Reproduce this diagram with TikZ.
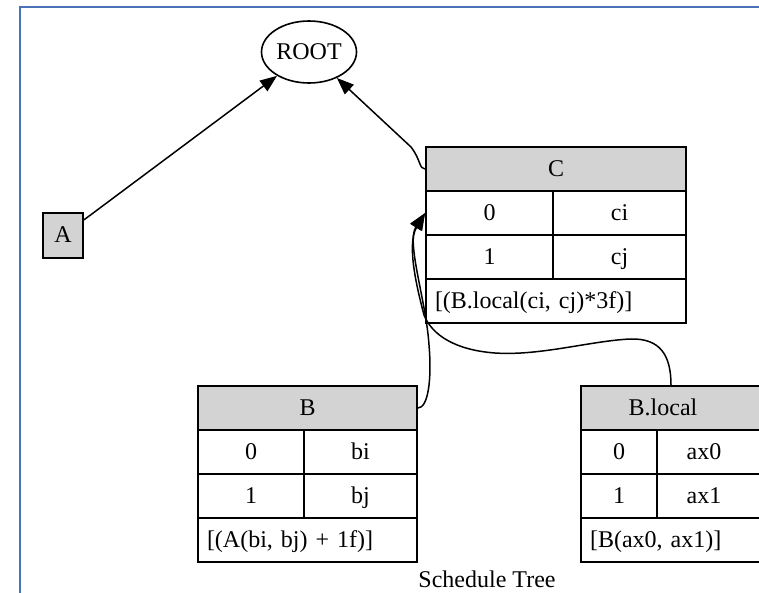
\documentclass[tikz,border=0pt]{standalone}
\usepackage{fontspec}
\setmainfont{Liberation Serif}
\usetikzlibrary{shapes.geometric,arrows.meta}
\definecolor{hdrgray}{HTML}{D3D3D3}
\definecolor{framebl}{HTML}{4A72B8}
\tikzset{
  txt/.style={font=\fontsize{24}{28}\selectfont},
  celltxt/.style={txt, text height=19pt, text depth=5pt},
  cell/.style={celltxt, draw, line width=1.8pt, rectangle, inner sep=0pt, minimum height=44pt},
  hdr/.style={cell, fill=hdrgray},
  foot/.style={cell, align=left, inner xsep=9pt},
  edge/.style={line width=1.5pt, -{Triangle[length=17pt,width=13pt]}},
}
\begin{document}
\begin{tikzpicture}[x=1pt,y=-1pt]
\useasboundingbox (0,0) rectangle (759,592);
\clip (0,0) rectangle (759,592);
\fill[white] (0,0) rectangle (759,592);
% window frame
\draw[framebl, line width=2pt] (20,593) -- (20,7) -- (760,7);

% tree nodes
\node[txt, ellipse, draw, line width=1.6pt, inner sep=0pt, minimum width=95pt, minimum height=62pt] (ROOT) at (309,52) {ROOT};
\node[hdr, minimum width=40pt, minimum height=45pt] (A) at (63,235.5) {A};

% table C
\node[hdr, minimum width=260pt] (Ch) at (556,169) {C};
\node[cell, minimum width=127pt] (C0k) at (489.5,213) {0};
\node[cell, minimum width=133pt] (C0v) at (619.5,213) {ci};
\node[cell, minimum width=127pt] (C1k) at (489.5,257) {1};
\node[cell, minimum width=133pt] (C1v) at (619.5,257) {cj};
\node[foot, text width=242pt, minimum width=260pt] (Cf) at (556,301) {[(B.local(ci, cj)*3f)]};

% table B
\node[hdr, minimum width=219pt] (Bh) at (307.5,408) {B};
\node[cell, minimum width=106pt] (B0k) at (251,452) {0};
\node[cell, minimum width=113pt] (B0v) at (360.5,452) {bi};
\node[cell, minimum width=106pt] (B1k) at (251,496) {1};
\node[cell, minimum width=113pt] (B1v) at (360.5,496) {bj};
\node[foot, text width=201pt, minimum width=219pt] (Bf) at (307.5,540) {[(A(bi, bj) + 1f)]};

% table B.local
\node[hdr, minimum width=180pt, label={[celltxt, inner sep=0pt, xshift=-8pt]center:B.local}] (BLh) at (671,408) {};
\node[cell, minimum width=76pt] (BL0k) at (619,452) {0};
\node[cell, minimum width=104pt, label={[celltxt, inner sep=0pt, xshift=-5pt]center:ax0}] (BL0v) at (709,452) {};
\node[cell, minimum width=76pt] (BL1k) at (619,496) {1};
\node[cell, minimum width=104pt, label={[celltxt, inner sep=0pt, xshift=-5pt]center:ax1}] (BL1v) at (709,496) {};
\node[foot, text width=162pt, minimum width=180pt] (BLf) at (671,540) {[B(ax0, ax1)]};

% caption
\node[txt, anchor=base] (cap) at (487,587) {Schedule Tree};

% edges
\draw[edge] (A) -- (ROOT);
\draw[edge] (Ch.west) .. controls (419,169) and (421,160) .. (411,147) -- (ROOT);
\draw[edge] (Bh.east) .. controls (428,408) and (432,380) .. (429,345)
  .. controls (426,300) and (406,242) .. (C0k.west);
\draw[edge] (BLh.north) .. controls (671,355) and (660,338) .. (630,339)
  .. controls (590,341) and (540,356) .. (495,353)
  .. controls (455,350) and (432,335) .. (424,315)
  .. controls (418,292) and (406,245) .. (C0k.west);
\end{tikzpicture}
\end{document}
